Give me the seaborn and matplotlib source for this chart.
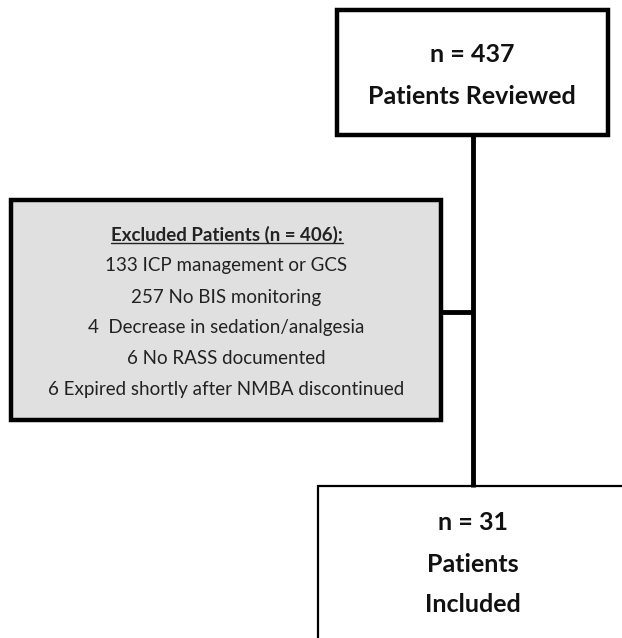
import matplotlib
matplotlib.use("Agg")
import matplotlib.pyplot as plt
import matplotlib.patches as mpatches
import seaborn as sns

# flowchart content
top_lines = ["n = 437", "Patients Reviewed"]
excl_title = "Excluded Patients (n = 406):"
excl_counts = [133, 257, 4, 6, 6]
excl_reasons = ["ICP management or GCS", "No BIS monitoring",
                " Decrease in sedation/analgesia", "No RASS documented",
                "Expired shortly after NMBA discontinued"]
bottom_lines = ["n = 31", "Patients", "Included"]

sns.set_style("white")
plt.rcParams['font.family'] = ['Lato', 'DejaVu Sans']

W, H = 622, 638
fig = plt.figure(figsize=(W / 100, H / 100), dpi=100)
ax = fig.add_axes([0, 0, 1, 1])
ax.set_xlim(0, W)
ax.set_ylim(H, 0)
ax.axis('off')

# connectors
ax.plot([473, 473], [135, 487], color='black', lw=3.5, solid_capstyle='butt')
ax.plot([441, 473], [312, 312], color='black', lw=3.5, solid_capstyle='butt')

# boxes
ax.add_patch(mpatches.Rectangle((337, 10), 271, 125, facecolor='white',
                                edgecolor='black', lw=3.2))
ax.add_patch(mpatches.Rectangle((11, 200), 430, 220, facecolor='#e0e0e0',
                                edgecolor='black', lw=3.2))
ax.add_patch(mpatches.Rectangle((318, 486), 340, 200, facecolor='white',
                                edgecolor='black', lw=1.6))

# top box text
for y, s in zip([55, 97], top_lines):
    ax.text(472, y, s, ha='center', va='center', fontsize=18,
            fontweight='bold', color='#111111')

# excluded box text
t = ax.text(227, 235, excl_title, ha='center', va='center', fontsize=13.5,
            fontweight='bold', color='#222222')
rows = [f"{c} {r}" for c, r in zip(excl_counts, excl_reasons)]
for i, s in enumerate(rows):
    ax.text(226, 266 + i * 31, s, ha='center', va='center', fontsize=13.5,
            color='#222222')

# underline the title
fig.canvas.draw()
bb = t.get_window_extent().transformed(ax.transData.inverted())
x0, x1 = sorted([bb.x0, bb.x1])
ybot = max(bb.y0, bb.y1)
ax.plot([x0, x1], [ybot - 1, ybot - 1], color='#222222', lw=1.0)

# bottom box text
for y, s in zip([523, 565, 605], bottom_lines):
    ax.text(473, y, s, ha='center', va='center', fontsize=18,
            fontweight='bold', color='#111111')

fig.savefig('out.png', dpi=100)
